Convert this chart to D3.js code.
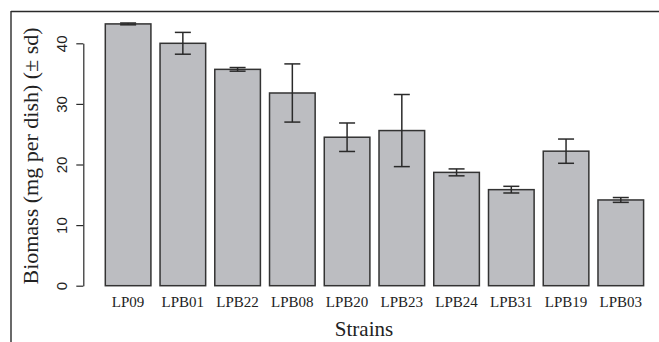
<!DOCTYPE html>
<html>
<head>
<meta charset="utf-8">
<script src="https://cdn.jsdelivr.net/npm/d3@7"></script>
<style>
  html, body { margin: 0; padding: 0; background: #fff; }
  svg { display: block; font-family: "Liberation Serif", "Times New Roman", serif; }
</style>
</head>
<body>
<svg id="chart" width="659" height="342"></svg>
<script>
const strains = ["LP09", "LPB01", "LPB22", "LPB08", "LPB20", "LPB23", "LPB24", "LPB31", "LPB19", "LPB03"];
const means = [43.2, 40.0, 35.7, 31.8, 24.5, 25.6, 18.7, 15.85, 22.2, 14.15];
const sds = [0.15, 1.8, 0.3, 4.8, 2.35, 5.95, 0.57, 0.55, 2.0, 0.4];
const yTicks = [0, 10, 20, 30, 40];

const svg = d3.select("#chart");
const ink = "#2a2a2a";

// frame (cropped box: top and left edges)
svg.append("line").attr("x1", 11).attr("x2", 659).attr("y1", 11.5).attr("y2", 11.5)
  .attr("stroke", ink).attr("stroke-width", 1.4);
svg.append("line").attr("x1", 11).attr("x2", 11).attr("y1", 11).attr("y2", 342)
  .attr("stroke", ink).attr("stroke-width", 1.4);

const x = d3.scaleBand().domain(strains).range([105.3, 643.6])
  .paddingInner(1 / 6).paddingOuter(0);
const y = d3.scaleLinear().domain([0, 40]).range([285.7, 43.3]);

// bars
svg.append("g").selectAll("rect").data(strains).join("rect")
  .attr("x", d => x(d))
  .attr("y", (d, i) => y(means[i]))
  .attr("width", x.bandwidth())
  .attr("height", (d, i) => y(0) - y(means[i]))
  .attr("fill", "#bcbdc1")
  .attr("stroke", "#333")
  .attr("stroke-width", 1.5);

// error bars
const eb = svg.append("g").attr("stroke", ink).attr("stroke-width", 1.5);
strains.forEach((s, i) => {
  const cx = x(s) + x.bandwidth() / 2;
  const top = y(means[i] + sds[i]), bot = y(means[i] - sds[i]);
  eb.append("line").attr("x1", cx).attr("x2", cx).attr("y1", top).attr("y2", bot);
  eb.append("line").attr("x1", cx - 8).attr("x2", cx + 8).attr("y1", top).attr("y2", top);
  eb.append("line").attr("x1", cx - 8).attr("x2", cx + 8).attr("y1", bot).attr("y2", bot);
});

// y axis
const yAxis = svg.append("g").attr("transform", "translate(83.3,0)")
  .call(d3.axisLeft(y).tickValues(yTicks).tickSize(7).tickSizeOuter(0));
yAxis.select(".domain").attr("stroke", ink).attr("stroke-width", 1.2);
yAxis.selectAll(".tick line").attr("stroke", ink).attr("stroke-width", 1.2);
yAxis.selectAll(".tick text").remove();
yAxis.selectAll(".tick").append("text")
  .attr("transform", "translate(-16.6,0) rotate(-90)")
  .attr("text-anchor", "middle")
  .attr("fill", "#222")
  .attr("font-size", 15)
  .text(d => d);

// x labels
svg.append("g").selectAll("text").data(strains).join("text")
  .attr("x", d => x(d) + x.bandwidth() / 2)
  .attr("y", 306.5)
  .attr("text-anchor", "middle")
  .attr("font-size", 15)
  .attr("fill", "#222")
  .text(d => d);

// axis titles
svg.append("text")
  .attr("transform", "translate(38,156) rotate(-90)")
  .attr("text-anchor", "middle")
  .attr("font-size", 22)
  .attr("fill", "#222")
  .text("Biomass (mg per dish) (\u00b1 sd)");

svg.append("text")
  .attr("x", 364)
  .attr("y", 336)
  .attr("text-anchor", "middle")
  .attr("font-size", 21)
  .attr("fill", "#222")
  .text("Strains");
</script>
</body>
</html>
